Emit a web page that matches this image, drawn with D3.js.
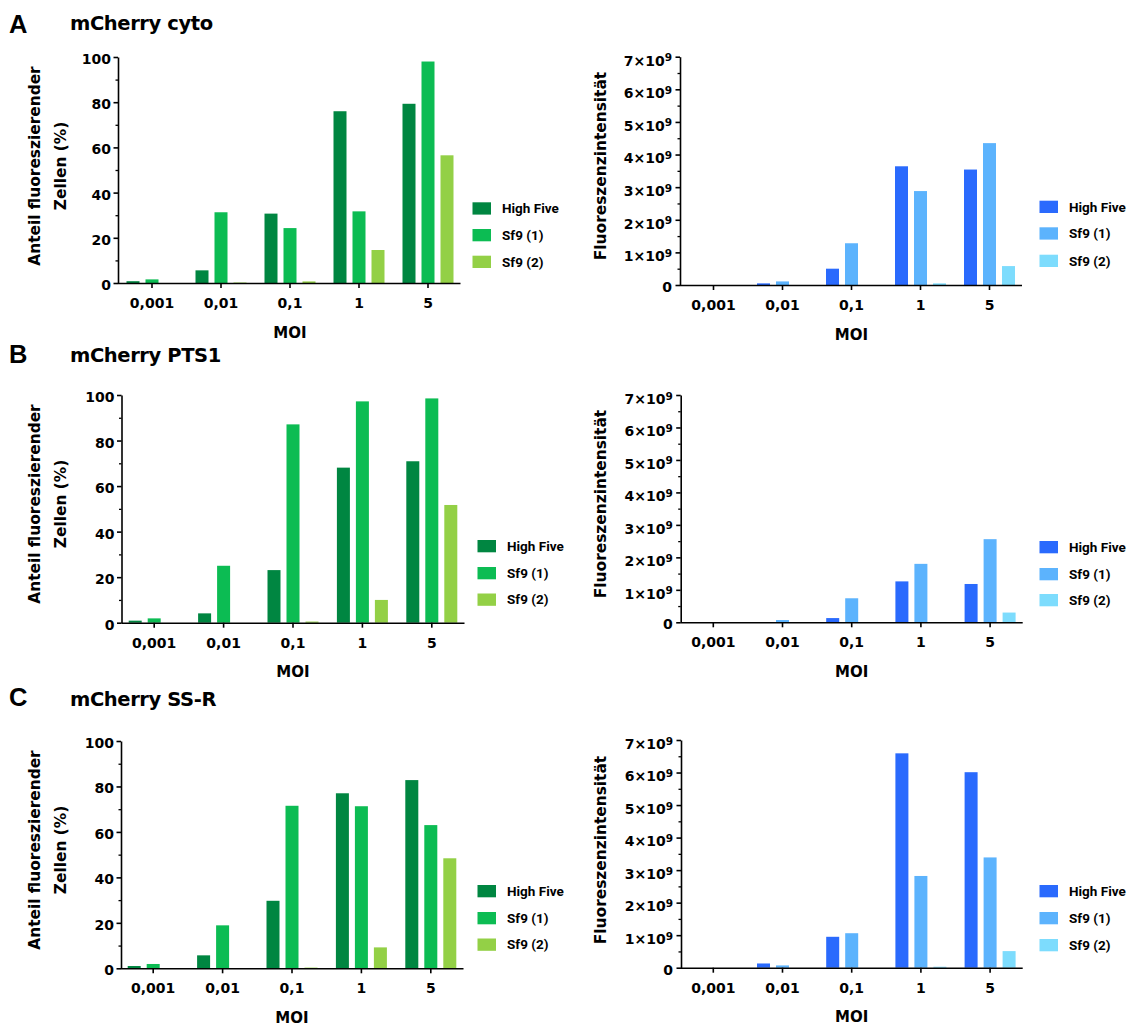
<!DOCTYPE html>
<html>
<head>
<meta charset="utf-8">
<script src="https://cdn.jsdelivr.net/npm/d3@7"></script>
<style>
  html,body{margin:0;padding:0;background:#fff;}
  svg{display:block;font-family:"DejaVu Sans",Verdana,sans-serif;font-weight:bold;}
  .axis path,.axis line{stroke:#000;stroke-width:1.6;}
  .axis text{fill:#000;font-size:14px;font-weight:bold;font-family:"DejaVu Sans",sans-serif;}
  .minor path{display:none;}
  .minor line{stroke:#000;stroke-width:1.3;}
  .leg{font-family:Roboto,sans-serif;font-weight:700;font-size:13.5px;}
</style>
</head>
<body>
<script>
// Kategorien und Serien
const moi = ["0,001","0,01","0,1","1","5"];
const strains = ["High Five","Sf9 (1)","Sf9 (2)"];
const greens = ["#008641","#0cbc53","#93d046"];
const blues  = ["#2a6afd","#5cb3fd","#7ddcfd"];
const pctTicks = [0,20,40,60,80,100];
const intTicks = [0,1e9,2e9,3e9,4e9,5e9,6e9,7e9];

// Anteil fluoreszierender Zellen (%) — Zeilen: High Five, Sf9 (1), Sf9 (2)
const cytoPct = [[0.8,5.6,30.7,76,79.3],[1.6,31.3,24.3,31.7,98],[0,0.2,0.7,14.6,56.5]];
const pts1Pct = [[0.9,4.1,23.1,68.1,70.9],[1.9,25,87.1,97.2,98.5],[0,0,0.5,10,51.7]];
const ssrPct  = [[1.0,5.7,29.7,77,82.8],[1.9,18.9,71.5,71.3,63],[0,0,0.3,9.2,48.4]];
// Fluoreszenzintensität
const cytoInt = [[0,0.05e9,0.5e9,3.64e9,3.54e9],[0,0.11e9,1.28e9,2.88e9,4.35e9],[0,0,0,0.05e9,0.58e9]];
const pts1Int = [[0,0,0.13e9,1.26e9,1.18e9],[0,0.07e9,0.74e9,1.8e9,2.56e9],[0,0,0,0.01e9,0.3e9]];
const ssrInt  = [[0,0.13e9,0.95e9,6.59e9,6.01e9],[0,0.07e9,1.06e9,2.82e9,3.39e9],[0,0,0,0.03e9,0.51e9]];

const panels = [
  {label:"A", title:"mCherry cyto", labelY:33, titleY:30, tcy:166, pct:cytoPct, int:cytoInt,
   L:{x0:117.5,x1:462.5,ax:118,top:57,bot:283,legX:472.5,rows:[208.3,235,261.7]},
   R:{x0:679,x1:1024,ax:680,top:56.7,bot:285,legX:1039.5,rows:[206.7,233.3,260.7]}},
  {label:"B", title:"mCherry PTS1", labelY:363, titleY:361.7, tcy:504, pct:pts1Pct, int:pts1Int,
   L:{x0:119.5,x1:466.5,ax:121.5,top:395,bot:622.7,legX:477.5,rows:[546,573,599.5]},
   R:{x0:678.7,x1:1024.7,ax:680.7,top:395,bot:622.3,legX:1039.5,rows:[547,574,600]}},
  {label:"C", title:"mCherry SS-R", labelY:706, titleY:706, tcy:850, pct:ssrPct, int:ssrInt,
   L:{x0:118.5,x1:465.5,ax:121,top:741,bot:968.3,legX:477.5,rows:[891,918,944.5]},
   R:{x0:678.7,x1:1024.7,ax:681,top:740,bot:967.7,legX:1039.5,rows:[891,918,945]}}
];

const svg = d3.select("body").append("svg").attr("width",1131).attr("height",1028);

function drawBars(g, box, values, colors, yMax, ticks, minorStep, isInt, tcy, titleX, titleLines){
  const x = d3.scaleBand().domain(moi).range([box.x0, box.x1]);
  const y = d3.scaleLinear().domain([0,yMax]).range([box.bot, box.top]);
  const bw = 13, off = 19;

  // Balken
  values.forEach((row,i)=>{
    g.append("g").selectAll("rect").data(row).join("rect")
      .attr("x",(d,j)=> x(moi[j]) + x.bandwidth()/2 + (i-1)*off - bw/2)
      .attr("width",bw)
      .attr("y",d=>y(d))
      .attr("height",d=>Math.max(0,box.bot-y(d)))
      .attr("fill",colors[i]);
  });

  // Nebenstriche
  const minor = d3.range(minorStep, yMax, minorStep*2);
  g.append("g").attr("class","axis minor").attr("transform",`translate(${box.ax},0)`)
    .call(d3.axisLeft(y).tickValues(minor).tickSize(2.5).tickFormat(""));

  // y-Achse
  const ya = g.append("g").attr("class","axis").attr("transform",`translate(${box.ax},0)`)
    .call(d3.axisLeft(y).tickValues(ticks).tickSize(4.5).tickSizeOuter(0).tickPadding(isInt?3.5:2.5));
  ya.selectAll(".tick text").each(function(d){
    const t = d3.select(this);
    t.text(null).attr("dy", null).attr("y", (isInt && d>0) ? 8.3 : 6.5);
    if(isInt && d>0){
      t.append("tspan").text(`${d/1e9}×10`);
      t.append("tspan").attr("dy",-4.3).attr("font-size",10.5).text("9");
    } else t.text(d);
  });

  // x-Achse
  g.append("g").attr("class","axis").attr("transform",`translate(0,${box.bot})`)
    .call(d3.axisBottom(x).tickSize(5).tickSizeOuter(0).tickPadding(10))
    .select(".domain").attr("d",`M${box.ax},0.5H${box.x1 - 2}`);

  g.append("text").attr("x",(box.x0+box.x1)/2).attr("y",box.bot+54.5)
    .attr("text-anchor","middle").attr("font-size",15).text("MOI");

  // Achsentitel
  titleLines.forEach((ln,k)=>{
    g.append("text").attr("transform",`translate(${ln.x},${tcy}) rotate(-90)`)
      .attr("text-anchor","middle").attr("font-size",15.4).text(ln.t);
  });

  // Legende
  const leg = g.append("g").attr("class","leg");
  strains.forEach((s,i)=>{
    leg.append("rect").attr("x",box.legX).attr("y",box.rows[i]-6).attr("width",18.5).attr("height",12.3).attr("fill",colors[i]);
    leg.append("text").attr("x",box.legX+29.5).attr("y",box.rows[i]).attr("dy","0.36em").text(s);
  });
}

panels.forEach(p=>{
  const g = svg.append("g");
  g.append("text").attr("x",9).attr("y",p.labelY).attr("font-family","'Liberation Sans',Arial,sans-serif")
    .attr("font-size",25.5).attr("font-weight","bold").text(p.label);
  g.append("text").attr("x",70).attr("y",p.titleY).attr("font-size",19.5).attr("letter-spacing",-0.4).text(p.title);

  drawBars(g, p.L, p.pct, greens, 100, pctTicks, 10, false, p.tcy, 0,
    [{x:40,t:"Anteil fluoreszierender"},{x:66,t:"Zellen (%)"}]);
  drawBars(g, p.R, p.int, blues, 7e9, intTicks, 0.5e9, true, p.tcy, 0,
    [{x:606,t:"Fluoreszenzintensität"}]);
});
</script>
</body>
</html>
